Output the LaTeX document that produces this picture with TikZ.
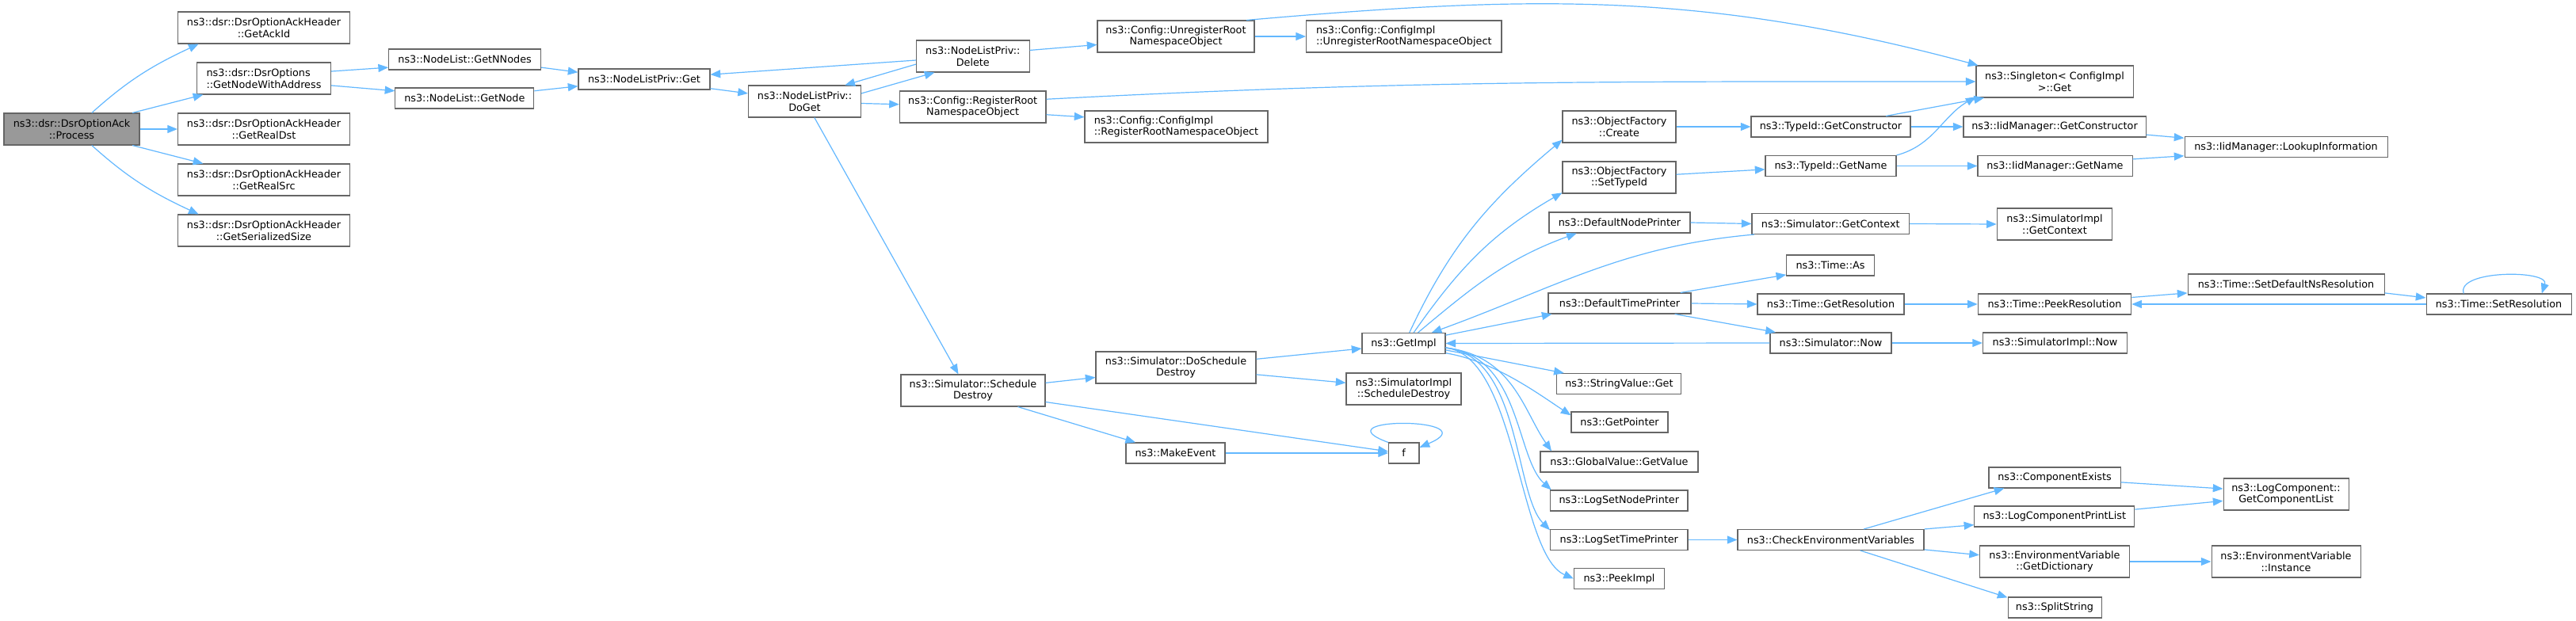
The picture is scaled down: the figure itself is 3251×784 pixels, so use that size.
\documentclass[tikz,border=0pt]{standalone}
\usepackage{fontspec}
\setmainfont{DejaVu Sans}
\usetikzlibrary{arrows.meta}
\definecolor{edgeblue}{HTML}{63B8FF}
\definecolor{nodeborder}{HTML}{666666}
\definecolor{rootfill}{HTML}{999999}
\newcommand\fnsize{\fontsize{9.6}{11}\selectfont}
\tikzset{
  fn/.style={draw=nodeborder, line width=0.8pt, fill=white, inner sep=1pt,
    minimum width=#1*0.75pt, minimum height=26*0.75pt, align=center, font=\fnsize},
  fn2/.style={fn=#1, minimum height=40*0.75pt},
  link/.style={draw=edgeblue, line width=0.9pt, -{Triangle[length=9.5pt,width=7.5pt]}}
}
\begin{document}
\begin{tikzpicture}[x=0.75pt,y=0.75pt]
	\fill[white] (0,0) rectangle (3251,-784);
	\useasboundingbox (0,0) rectangle (3251,-784);

	% caller and first level
	\node[fn2=171, fill=rootfill] (proc) at (90.5,-163) {ns3::dsr::DsrOptionAck\\::Process};
	\node[fn2=217] (ackid) at (333,-35) {ns3::dsr::DsrOptionAckHeader\\::GetAckId};
	\node[fn2=169, align=left] (nwa) at (333,-99) {ns3::dsr::DsrOptions\\::GetNodeWithAddress};
	\node[fn2=217] (rdst) at (333,-163) {ns3::dsr::DsrOptionAckHeader\\::GetRealDst};
	\node[fn2=217] (rsrc) at (333,-227) {ns3::dsr::DsrOptionAckHeader\\::GetRealSrc};
	\node[fn2=217] (ssize) at (333,-291) {ns3::dsr::DsrOptionAckHeader\\::GetSerializedSize};

	% node list
	\node[fn=192] (nnodes) at (586.6,-75) {ns3::NodeList::GetNNodes};
	\node[fn=175] (getnode) at (586.4,-124) {ns3::NodeList::GetNode};
	\node[fn=166] (privget) at (813,-100) {ns3::NodeListPriv::Get};
	\node[fn2=142] (doget) at (1015.5,-128) {ns3::NodeListPriv::\\DoGet};
	\node[fn2=142.5] (delete) at (1227.8,-71) {ns3::NodeListPriv::\\Delete};
	\node[fn2=184.6] (regroot) at (1227.7,-135) {ns3::Config::RegisterRoot\\NamespaceObject};
	\node[fn2=231, align=left] (cfgreg) at (1484.5,-160) {ns3::Config::ConfigImpl\\::RegisterRootNamespaceObject};
	\node[fn2=198] (unreg) at (1484,-46) {ns3::Config::UnregisterRoot\\NamespaceObject};
	\node[fn2=246.4, align=left] (cfgunreg) at (1771.8,-46) {ns3::Config::ConfigImpl\\::UnregisterRootNamespaceObject};
	\node[fn2=198] (single) at (2593,-103) {ns3::Singleton< ConfigImpl\\ >::Get};

	% object factory, type id
	\node[fn2=143] (create) at (2043.5,-160) {ns3::ObjectFactory\\::Create};
	\node[fn2=143] (settypeid) at (2043.5,-224) {ns3::ObjectFactory\\::SetTypeId};
	\node[fn=178] (dnp) at (2044,-281) {ns3::DefaultNodePrinter};
	\node[fn=201] (tgetctor) at (2310.5,-160) {ns3::TypeId::GetConstructor};
	\node[fn=230] (iidctor) at (2593,-160) {ns3::IidManager::GetConstructor};
	\node[fn=256] (lookup) at (2885,-185.5) {ns3::IidManager::LookupInformation};
	\node[fn=165] (tgetname) at (2310.5,-209.5) {ns3::TypeId::GetName};
	\node[fn=195] (iidname) at (2593.5,-209.5) {ns3::IidManager::GetName};
	\node[fn=198.6] (simctx) at (2310.3,-282.5) {ns3::Simulator::GetContext};
	\node[fn2=145.6] (implctx) at (2593,-283) {ns3::SimulatorImpl\\::GetContext};

	% simulator
	\node[fn2=182] (schdest) at (1228,-493) {ns3::Simulator::Schedule\\Destroy};
	\node[fn2=202] (doschdest) at (1484,-464) {ns3::Simulator::DoSchedule\\Destroy};
	\node[fn=105] (getimpl) at (1771.5,-433.5) {ns3::GetImpl};
	\node[fn2=145] (implschdest) at (1771.5,-491) {ns3::SimulatorImpl\\::ScheduleDestroy};
	\node[fn=125] (makeevent) at (1483.5,-572) {ns3::MakeEvent};
	\node[fn=38.5] (f) at (1771.7,-572) {f};

	% time
	\node[fn=180] (dtp) at (2044,-383) {ns3::DefaultTimePrinter};
	\node[fn=110.5] (timeas) at (2310,-335) {ns3::Time::As};
	\node[fn=185] (getres) at (2310.5,-384) {ns3::Time::GetResolution};
	\node[fn=193.5] (peekres) at (2593,-384) {ns3::Time::PeekResolution};
	\node[fn=248] (setdefns) at (2885,-359) {ns3::Time::SetDefaultNsResolution};
	\node[fn=183] (setres) at (3153.5,-384) {ns3::Time::SetResolution};
	\node[fn=153] (simnow) at (2310.5,-433) {ns3::Simulator::Now};
	\node[fn=182] (implnow) at (2593.5,-433) {ns3::SimulatorImpl::Now};

	% logging
	\node[fn=157] (strget) at (2043.4,-484.5) {ns3::StringValue::Get};
	\node[fn=122] (getptr) at (2044,-533) {ns3::GetPointer};
	\node[fn=199] (gvget) at (2043.5,-583) {ns3::GlobalValue::GetValue};
	\node[fn=173.4] (lsnp) at (2043.3,-632) {ns3::LogSetNodePrinter};
	\node[fn=173.4] (lstp) at (2043.3,-681.5) {ns3::LogSetTimePrinter};
	\node[fn=114] (peekimpl) at (2043.5,-730.5) {ns3::PeekImpl};
	\node[fn=235] (checkenv) at (2310.5,-681.5) {ns3::CheckEnvironmentVariables};
	\node[fn=166] (compex) at (2593,-603) {ns3::ComponentExists};
	\node[fn=202] (lcpl) at (2592.8,-652) {ns3::LogComponentPrintList};
	\node[fn2=189] (getdict) at (2593,-709) {ns3::EnvironmentVariable\\::GetDictionary};
	\node[fn=118] (splitstr) at (2593,-767) {ns3::SplitString};
	\node[fn2=158] (complist) at (2885,-624) {ns3::LogComponent::\\GetComponentList};
	\node[fn2=188] (envinst) at (2885,-709) {ns3::EnvironmentVariable\\::Instance};

	% calls
	\draw[link] (proc.39) to[out=42,in=205] (ackid.194);
	\draw[link] (proc.15) -- (nwa.195);
	\draw[link] (proc.east) -- (rdst.west);
	\draw[link] (proc.345) -- (rsrc.165);
	\draw[link] (proc.321) to[out=-42,in=155] (ssize.166);
	\draw[link] (nwa.6) -- (nnodes.186);
	\draw[link] (nwa.354) -- (getnode.174);
	\draw[link] (nnodes.354) -- (privget.174);
	\draw[link] (getnode.6) -- (privget.186);
	\draw[link] (privget.352) -- (doget.172);
	\draw[link] (doget.8) -- (delete.203);
	\draw[link] (delete.184) -- (privget.4);
	\draw[link] (delete.188) -- (doget.22);
	\draw[link] (delete.6) -- (unreg.186);
	\draw[link] (doget.358) -- (regroot.178);
	\draw[link] (doget.301) -- (schdest.132);
	\draw[link] (unreg.east) -- (cfgunreg.west);
	\draw[link] (unreg.13) to[out=5,in=165] (single.168);
	\draw[link] (regroot.354) -- (cfgreg.174);
	\draw[link] (regroot.6) to[out=3,in=180] (single.west);

	\draw[link] (schdest.6) -- (doschdest.187);
	\draw[link] (schdest.340) -- (makeevent.165);
	\draw[link] (schdest.351) -- (f.174);
	\draw[link] (doschdest.6) -- (getimpl.187);
	\draw[link] (doschdest.355) -- (implschdest.174);
	\draw[link] (makeevent.east) -- (f.west);
	\draw[link] (f.north west) .. controls +(-90,33) and +(90,38) .. (f.20);

	\draw[link] (getimpl.62) to[out=65,in=220] (create.193);
	\draw[link] (getimpl.47) to[out=55,in=210] (settypeid.195);
	\draw[link] (getimpl.37) to[out=40,in=200] (dnp.194);
	\draw[link] (getimpl.11) -- (dtp.189);
	\draw[link] (simctx.188) to[out=185,in=20] (getimpl.21);
	\draw[link] (simnow.west) -- (getimpl.east);
	\draw[link] (getimpl.351) -- (strget.169);
	\draw[link] (getimpl.347) .. controls +(60,-10) and +(-45,30) .. (getptr.172);
	\draw[link] (getimpl.354) .. controls +(85,-10) and +(-35,50) .. (gvget.171);
	\draw[link] (getimpl.354) .. controls +(95,-10) and +(-45,40) .. (lsnp.171);
	\draw[link] (getimpl.354) .. controls +(95,-10) and +(-45,45) .. (lstp.172);
	\draw[link] (getimpl.354) .. controls +(90,-10) and +(-70,30) .. (peekimpl.west);

	\draw[link] (create.east) -- (tgetctor.west);
	\draw[link] (settypeid.3) -- (tgetname.183);
	\draw[link] (dnp.east) -- (simctx.west);
	\draw[link] (tgetctor.11) -- (single.193);
	\draw[link] (tgetctor.east) -- (iidctor.west);
	\draw[link] (tgetname.north east) to[out=15,in=210] (single.191);
	\draw[link] (tgetname.east) -- (iidname.west);
	\draw[link] (iidctor.355) -- (lookup.175);
	\draw[link] (iidname.5) -- (lookup.185);
	\draw[link] (simctx.east) -- (implctx.west);

	\draw[link] (dtp.10) -- (timeas.192);
	\draw[link] (dtp.east) -- (getres.west);
	\draw[link] (dtp.349) -- (simnow.169);
	\draw[link] (getres.east) -- (peekres.west);
	\draw[link] (peekres.5) -- (setdefns.185);
	\draw[link] (setdefns.355) -- (setres.175);
	\draw[link] (setres.west) -- (peekres.east);
	\draw[link] (setres.163) .. controls +(-10,30) and +(10,30) .. (setres.14);
	\draw[link] (simnow.east) -- (implnow.west);

	\draw[link] (lstp.east) -- (checkenv.west);
	\draw[link] (checkenv.18) -- (compex.192);
	\draw[link] (checkenv.north east) -- (lcpl.186);
	\draw[link] (checkenv.354) -- (getdict.175);
	\draw[link] (checkenv.340) -- (splitstr.168);
	\draw[link] (compex.356) -- (complist.175);
	\draw[link] (lcpl.5) -- (complist.186);
	\draw[link] (getdict.east) -- (envinst.west);
\end{tikzpicture}
\end{document}
